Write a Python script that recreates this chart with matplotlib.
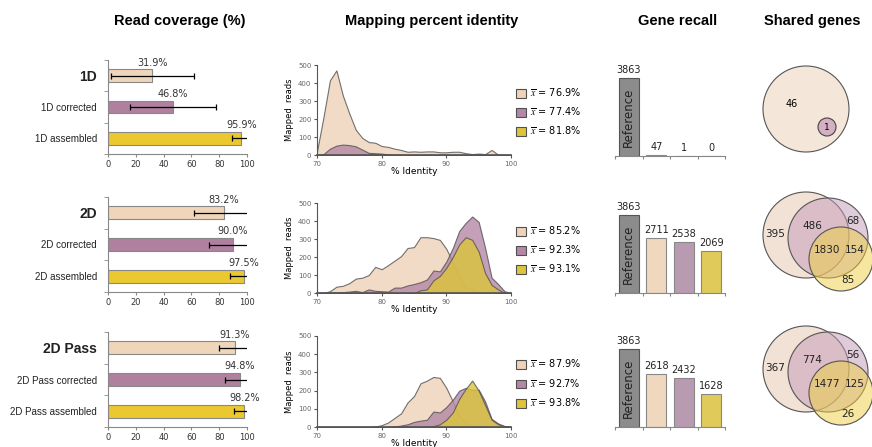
import numpy as np
import matplotlib.pyplot as plt
from matplotlib.patches import Circle, Patch

plt.rcParams['font.family'] = 'DejaVu Sans'
plt.rcParams['mathtext.fontset'] = 'stix'

# read coverage (%)
cov_labels = [['1D', '1D corrected', '1D assembled'],
              ['2D', '2D corrected', '2D assembled'],
              ['2D Pass', '2D Pass corrected', '2D Pass assembled']]
coverage = [[31.9, 46.8, 95.9], [83.2, 90.0, 97.5], [91.3, 94.8, 98.2]]
coverage_err = [[30.0, 31.0, 6.5], [21.0, 17.0, 10.0], [11.3, 10.8, 7.7]]

# mapping percent identity (mapped reads per % identity bin)
identity = list(range(70, 101))
reads_1d = [[20, 210, 415, 470, 330, 230, 140, 95, 72, 68, 50, 45, 35, 28, 18, 20,
             18, 20, 20, 15, 15, 18, 18, 10, 5, 8, 5, 28, 2, 0, 0],
            [0, 5, 35, 52, 58, 55, 48, 30, 12, 10, 8, 3, 0, 0, 0, 0,
             0, 0, 0, 0, 0, 0, 0, 0, 0, 0, 0, 0, 0, 0, 0],
            [0, 0, 0, 0, 0, 0, 0, 0, 2, 3, 3, 2, 1, 0, 0, 0,
             0, 0, 0, 0, 0, 0, 0, 0, 0, 0, 0, 0, 0, 0, 0]]
reads_2d = [[0, 0, 10, 35, 40, 55, 80, 85, 100, 145, 132, 155, 180, 205, 250, 255,
             310, 310, 305, 295, 245, 170, 90, 30, 20, 5, 0, 0, 0, 0, 0],
            [0, 2, 2, 3, 5, 8, 12, 5, 20, 12, 10, 8, 30, 30, 42, 50,
             60, 75, 125, 120, 175, 250, 345, 390, 425, 395, 250, 85, 50, 10, 0],
            [0, 0, 0, 0, 0, 0, 0, 0, 0, 0, 0, 0, 0, 0, 0, 0,
             15, 20, 70, 95, 140, 200, 270, 310, 295, 230, 110, 45, 20, 0, 0]]
reads_2dpass = [[0, 0, 0, 0, 0, 0, 0, 0, 0, 3, 10, 25, 50, 75, 135, 170,
                 240, 255, 275, 270, 215, 140, 60, 20, 12, 5, 0, 0, 0, 0, 0],
                [0, 0, 0, 0, 0, 0, 0, 0, 0, 0, 0, 0, 3, 8, 15, 28,
                 35, 40, 85, 80, 110, 150, 200, 215, 205, 205, 140, 45, 20, 5, 0],
                [0, 0, 0, 0, 0, 0, 0, 0, 0, 0, 0, 0, 0, 0, 0, 0,
                 0, 0, 5, 15, 40, 80, 155, 210, 255, 200, 120, 40, 15, 5, 0]]
identity_means = [[76.9, 77.4, 81.8], [85.2, 92.3, 93.1], [87.9, 92.7, 93.8]]

# gene recall
recall_cats = ['Reference', 'raw', 'corrected', 'assembled']
recall = [[3863, 47, 1, 0], [3863, 2711, 2538, 2069], [3863, 2618, 2432, 1628]]

# shared genes (venn region counts)
venn_1d = [46, 1]
venn_2d = [395, 486, 68, 1830, 154, 85]
venn_2dpass = [367, 774, 56, 1477, 125, 26]

W, H = 872, 447
fig = plt.figure(figsize=(W / 100, H / 100), dpi=100)

def box(x0, y0, x1, y1):
    return [x0 / W, 1 - y1 / H, (x1 - x0) / W, (y1 - y0) / H]

bar_cols = ['#EFD5BA', '#B0809F', '#EBC830']
fill_cols = ['#EFD3B8', '#B487A6', '#DCC53A']
rec_cols = ['#8C8C8C', '#F0D8BF', '#B99BB1', '#E0CA5A']
venn_cols = ['#E7C7AF', '#C399B7', '#EFCF41']
axc = '#888888'

titles = [('Read coverage (%)', 180), ('Mapping percent identity', 432),
          ('Gene recall', 678), ('Shared genes', 812)]
for t, x in titles:
    fig.text(x / W, 1 - 21 / H, t, ha='center', va='center', fontsize=10.5,
             fontweight='bold', family='Liberation Sans')

rows = [(60, 154), (197, 292), (332, 427)]
id_rows = [(65, 155), (203, 293), (336, 427)]
rec_rows = [(65, 156), (202, 293), (336, 427)]
all_reads = [reads_1d, reads_2d, reads_2dpass]

for r in range(3):
    # coverage bars
    ax = fig.add_axes(box(108, rows[r][0], 247, rows[r][1]))
    ypos = np.arange(3)
    ax.barh(ypos, coverage[r], height=0.41, color=bar_cols, edgecolor=axc, linewidth=0.8)
    ax.errorbar(coverage[r], ypos, xerr=coverage_err[r], fmt='none', ecolor='black',
                elinewidth=0.9, capsize=2.5, capthick=0.9)
    for i, v in enumerate(coverage[r]):
        ax.annotate(f'{v:.1f}%', (v, i - 0.21), xytext=(0, 1), textcoords='offset points',
                    ha='center', va='bottom', fontsize=7, color='#333333')
    ax.set_xlim(0, 100)
    ax.set_ylim(2.5, -0.5)
    ax.set_yticks(ypos)
    ax.set_yticklabels(cov_labels[r], family='Liberation Sans', fontsize=7, color='#222222')
    ax.get_yticklabels()[0].set_fontweight('bold')
    ax.get_yticklabels()[0].set_fontsize(10)
    ax.set_yticks([-0.5, 0.5, 1.5, 2.5], minor=True)
    ax.tick_params(axis='y', which='major', length=0, pad=8)
    ax.tick_params(axis='y', which='minor', length=3, color=axc)
    ax.set_xticks(range(0, 101, 20))
    ax.tick_params(axis='x', labelsize=6, length=2.5, color=axc, labelcolor='#333333', pad=2)
    for s in ['top', 'right']:
        ax.spines[s].set_visible(False)
    for s in ['left', 'bottom']:
        ax.spines[s].set_color(axc)
        ax.spines[s].set_linewidth(0.8)

    # identity density
    ax = fig.add_axes(box(317, id_rows[r][0], 511, id_rows[r][1]))
    handles = []
    for k in range(3):
        ax.fill_between(identity, all_reads[r][k], 0, facecolor=fill_cols[k], alpha=0.8,
                        edgecolor='#505050', linewidth=0.8)
        handles.append(Patch(facecolor=fill_cols[k], edgecolor='#505050', linewidth=0.8,
                             label=r'$\overline{x}$' + f' = {identity_means[r][k]:.1f}%'))
    ax.set_xlim(70, 100)
    ax.set_ylim(0, 500)
    ax.set_xticks([70, 80, 90, 100])
    ax.set_yticks(range(0, 501, 100))
    ax.tick_params(labelsize=5, length=2, color='#555555', labelcolor='#666666', pad=2)
    ax.set_ylabel('Mapped  reads', fontsize=6, labelpad=3)
    ax.set_xlabel('% Identity', fontsize=6.5, labelpad=0)
    for s in ['top', 'right']:
        ax.spines[s].set_visible(False)
    ax.spines['left'].set_color('#555555')
    ax.spines['bottom'].set_color('#555555')
    ax.spines['bottom'].set_linewidth(1.2)
    ax.legend(handles=handles, loc='center left', bbox_to_anchor=(0.98, 0.48), frameon=False,
              fontsize=7, handlelength=1.0, handleheight=1.0, handletextpad=0.5,
              labelspacing=0.7)

    # gene recall
    ax = fig.add_axes(box(615, rec_rows[r][0], 725, rec_rows[r][1]))
    xpos = np.arange(4)
    ax.bar(xpos, recall[r], width=0.73, color=rec_cols, edgecolor=['#555555', axc, axc, axc],
           linewidth=0.8)
    for i, v in enumerate(recall[r]):
        ax.annotate(str(v), (i, v), xytext=(0, 2), textcoords='offset points', ha='center',
                    va='bottom', fontsize=7, color='#222222')
    ax.text(0, recall[r][0] / 2, recall_cats[0], rotation=90, ha='center', va='center',
            fontsize=8.5, color='#222222')
    ax.set_xlim(-0.5, 3.5)
    ax.set_ylim(0, 4500)
    ax.set_yticks([])
    ax.set_xticks([-0.5, 0.5, 1.5, 2.5, 3.5])
    ax.set_xticklabels([])
    ax.tick_params(axis='x', length=2.5, color=axc)
    for s in ['top', 'right', 'left']:
        ax.spines[s].set_visible(False)
    ax.spines['bottom'].set_color(axc)

# shared genes venn diagrams (pixel space overlay)
vax = fig.add_axes([0, 0, 1, 1])
vax.set_xlim(0, W)
vax.set_ylim(H, 0)
vax.set_axis_off()

vax.add_patch(Circle((806, 109), 43, facecolor='#F5E6DA', edgecolor='#555555', linewidth=0.8))
vax.add_patch(Circle((827, 127), 9, facecolor='#D4B0C5', edgecolor='#444444', linewidth=0.8))
vax.text(792, 104, str(venn_1d[0]), ha='center', va='center', fontsize=7)
vax.text(827, 127, str(venn_1d[1]), ha='center', va='center', fontsize=6.5)

venn_sets = [(venn_2d, 235), (venn_2dpass, 369)]
for counts, cy in venn_sets:
    circles = [(806, cy, 43), (828, cy + 3, 40), (841, cy + 24, 32)]
    for (cx, yy, rad), col in zip(circles, venn_cols):
        vax.add_patch(Circle((cx, yy), rad, facecolor=col, alpha=0.5, edgecolor='none'))
        vax.add_patch(Circle((cx, yy), rad, facecolor='none', edgecolor='#555555', linewidth=0.8))
    spots = [(775, cy - 1), (812, cy - 9), (853, cy - 14), (827, cy + 15), (855, cy + 15),
             (848, cy + 45)]
    for n, (tx, ty) in zip(counts, spots):
        vax.text(tx, ty, str(n), ha='center', va='center', fontsize=7.5, color='#222222')

fig.savefig('out.png', dpi=100)
